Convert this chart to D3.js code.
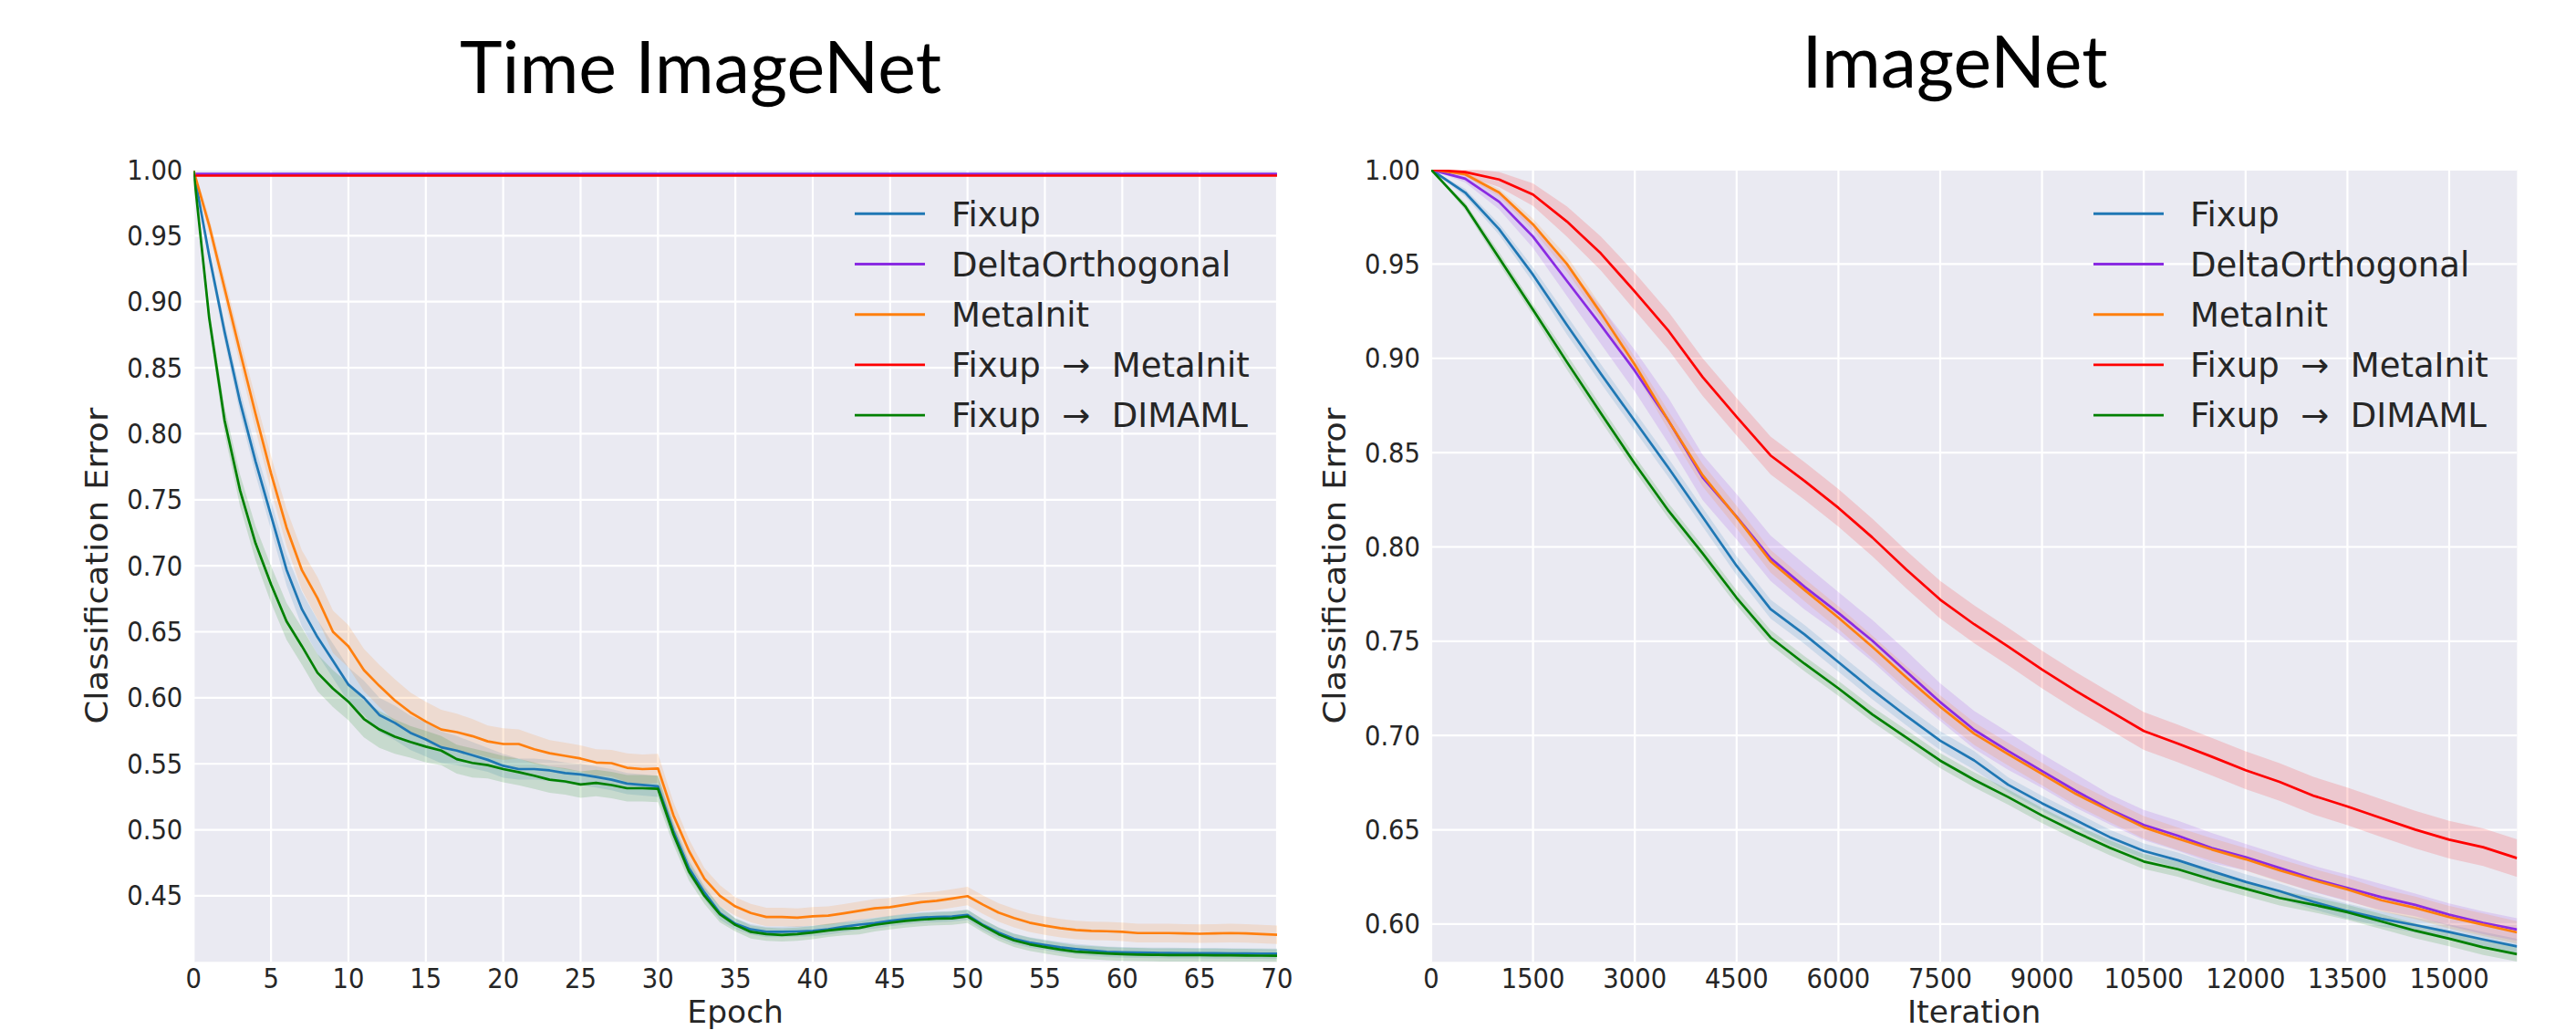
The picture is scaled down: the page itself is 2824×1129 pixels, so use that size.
<!DOCTYPE html>
<html><head><meta charset="utf-8">
<script src="https://cdn.jsdelivr.net/npm/d3@7"></script>
<style>html,body{margin:0;padding:0;background:#fff;} svg{display:block;}</style>
</head><body>
<svg id="chart" width="2824" height="1129"></svg>
<script>
// ---------------- DATA ----------------
const seriesNames = ["Fixup", "DeltaOrthogonal", "MetaInit", "Fixup\u00a0\u00a0\u2192\u00a0\u00a0MetaInit", "Fixup\u00a0\u00a0\u2192\u00a0\u00a0DIMAML"];
const seriesColors = ["#1f77b4", "#8a2be2", "#ff7f0e", "#ff0000", "#008000"];

const leftTitle = "Time ImageNet";
const rightTitle = "ImageNet";
const leftXLabel = "Epoch";
const rightXLabel = "Iteration";
const yLabel = "Classification Error";

const leftXTicks = [0, 5, 10, 15, 20, 25, 30, 35, 40, 45, 50, 55, 60, 65, 70];
const leftYTicks = [0.45, 0.50, 0.55, 0.60, 0.65, 0.70, 0.75, 0.80, 0.85, 0.90, 0.95, 1.00];
const rightXTicks = [0, 1500, 3000, 4500, 6000, 7500, 9000, 10500, 12000, 13500, 15000];
const rightYTicks = [0.60, 0.65, 0.70, 0.75, 0.80, 0.85, 0.90, 0.95, 1.00];

const epochs = [0,1,2,3,4,5,6,7,8,9,10,11,12,13,14,15,16,17,18,19,20,21,22,23,24,25,26,27,28,29,30,31,32,33,34,35,36,37,38,39,40,41,42,43,44,45,46,47,48,49,50,51,52,53,54,55,56,57,58,59,60,61,62,63,64,65,66,67,68,69,70];

const leftFixup = [0.999,0.935,0.877,0.824,0.779,0.738,0.697,0.667,0.646,0.628,
  0.610,0.600,0.587,0.581,0.5735,0.5685,0.5625,0.560,0.5565,0.553,
  0.5485,0.546,0.546,0.545,0.543,0.542,0.540,0.538,0.535,0.534,
  0.533,0.499,0.471,0.4526,0.437,0.4288,0.4246,0.4227,0.4227,0.423,
  0.4234,0.4246,0.4265,0.4282,0.4293,0.431,0.4324,0.4335,0.434,0.4344,
  0.4356,0.428,0.4222,0.4175,0.4147,0.4128,0.411,0.4097,0.4086,0.4076,
  0.4072,0.407,0.4068,0.4067,0.4066,0.4066,0.4065,0.4064,0.4063,0.4062,0.4061];
const leftDelta = [0.9968,0.9968,0.9968,0.9968,0.9968,0.9968,0.9968,0.9968,0.9968,0.9968,
  0.9968,0.9968,0.9968,0.9968,0.9968,0.9968,0.9968,0.9968,0.9968,0.9968,
  0.9968,0.9968,0.9968,0.9968,0.9968,0.9968,0.9968,0.9968,0.9968,0.9968,
  0.9968,0.9968,0.9968,0.9968,0.9968,0.9968,0.9968,0.9968,0.9968,0.9968,
  0.9968,0.9968,0.9968,0.9968,0.9968,0.9968,0.9968,0.9968,0.9968,0.9968,
  0.9968,0.9968,0.9968,0.9968,0.9968,0.9968,0.9968,0.9968,0.9968,0.9968,
  0.9968,0.9968,0.9968,0.9968,0.9968,0.9968,0.9968,0.9968,0.9968,0.9968,0.9968];
const leftMeta = [0.999,0.958,0.910,0.862,0.815,0.770,0.729,0.6965,0.6755,0.650,
  0.639,0.621,0.609,0.598,0.589,0.582,0.576,0.574,0.571,0.567,
  0.565,0.565,0.561,0.558,0.556,0.554,0.551,0.5505,0.547,0.546,
  0.5465,0.511,0.484,0.463,0.450,0.442,0.437,0.434,0.434,0.4335,
  0.4345,0.435,0.4367,0.4386,0.4405,0.4414,0.4433,0.4452,0.4463,0.448,
  0.4498,0.4433,0.4374,0.4332,0.4297,0.4274,0.4255,0.4241,0.4234,0.4232,
  0.4227,0.4218,0.4218,0.4218,0.4215,0.4213,0.4215,0.4218,0.4215,0.421,0.4205];
const leftFixMeta = [0.9955,0.9955,0.9955,0.9955,0.9955,0.9955,0.9955,0.9955,0.9955,0.9955,
  0.9955,0.9955,0.9955,0.9955,0.9955,0.9955,0.9955,0.9955,0.9955,0.9955,
  0.9955,0.9955,0.9955,0.9955,0.9955,0.9955,0.9955,0.9955,0.9955,0.9955,
  0.9955,0.9955,0.9955,0.9955,0.9955,0.9955,0.9955,0.9955,0.9955,0.9955,
  0.9955,0.9955,0.9955,0.9955,0.9955,0.9955,0.9955,0.9955,0.9955,0.9955,
  0.9955,0.9955,0.9955,0.9955,0.9955,0.9955,0.9955,0.9955,0.9955,0.9955,
  0.9955,0.9955,0.9955,0.9955,0.9955,0.9955,0.9955,0.9955,0.9955,0.9955,0.9955];
const leftDimaml = [0.999,0.888,0.810,0.757,0.717,0.686,0.658,0.639,0.619,0.607,
  0.597,0.584,0.576,0.5706,0.5666,0.563,0.560,0.5535,0.5507,0.549,
  0.546,0.5437,0.541,0.538,0.5367,0.5343,0.5355,0.5339,0.5315,0.5315,
  0.531,0.4966,0.4685,0.450,0.436,0.428,0.4227,0.421,0.4204,0.421,
  0.4222,0.4238,0.425,0.4257,0.428,0.4296,0.431,0.432,0.4327,0.433,
  0.4344,0.4274,0.421,0.4163,0.4133,0.4112,0.4093,0.4077,0.407,0.4063,
  0.4058,0.4055,0.4053,0.4052,0.4052,0.4051,0.405,0.4049,0.4048,0.4047,0.4046];

// band half-widths (std) read from the shaded regions
const leftFixupSd = [0.002,0.005,0.007,0.009,0.010,0.011,0.012,0.013,0.013,0.013,
  0.013,0.013,0.013,0.013,0.013,0.013,0.012,0.011,0.010,0.009,
  0.009,0.008,0.008,0.008,0.008,0.008,0.008,0.008,0.008,0.008,
  0.008,0.007,0.006,0.005,0.005,0.004,0.004,0.004,0.004,0.004,
  0.004,0.004,0.004,0.004,0.004,0.004,0.004,0.004,0.004,0.004,
  0.004,0.004,0.004,0.004,0.004,0.004,0.004,0.004,0.004,0.004,
  0.004,0.004,0.004,0.004,0.004,0.004,0.004,0.004,0.004,0.004,0.004];
const leftMetaSd = [0.003,0.006,0.008,0.010,0.012,0.013,0.014,0.015,0.016,0.016,
  0.016,0.016,0.016,0.016,0.015,0.015,0.015,0.014,0.013,0.012,
  0.012,0.011,0.011,0.010,0.010,0.010,0.010,0.010,0.011,0.011,
  0.011,0.010,0.009,0.008,0.008,0.007,0.007,0.007,0.007,0.007,
  0.007,0.007,0.007,0.007,0.007,0.007,0.007,0.007,0.007,0.007,
  0.007,0.007,0.007,0.007,0.007,0.007,0.007,0.007,0.007,0.007,
  0.007,0.007,0.007,0.007,0.007,0.007,0.007,0.007,0.007,0.007,0.007];
const leftDimamlSd = [0.002,0.008,0.010,0.012,0.013,0.014,0.014,0.014,0.014,0.014,
  0.014,0.014,0.014,0.013,0.012,0.012,0.011,0.011,0.011,0.010,
  0.010,0.010,0.010,0.010,0.010,0.010,0.010,0.010,0.010,0.010,
  0.010,0.008,0.007,0.006,0.006,0.005,0.005,0.005,0.005,0.005,
  0.005,0.005,0.005,0.005,0.005,0.005,0.005,0.005,0.005,0.005,
  0.005,0.005,0.005,0.005,0.005,0.005,0.005,0.005,0.005,0.005,
  0.005,0.005,0.005,0.005,0.005,0.005,0.005,0.005,0.005,0.005,0.005];

const iterations = [0,500,1000,1500,2000,2500,3000,3500,4000,4500,5000,5500,6000,6500,7000,7500,8000,
  8500,9000,9500,10000,10500,11000,11500,12000,12500,13000,13500,14000,14500,15000,15500,16000];

const rightFixup = [1.000,0.9879,0.9685,0.9443,0.9176,0.8918,0.8667,0.8417,0.8158,0.790,0.767,
  0.7536,0.7389,0.7242,0.7104,0.6973,0.6868,0.6739,0.6641,0.6551,0.6461,0.6388,
  0.6339,0.6281,0.6224,0.6175,0.6118,0.6069,0.6028,0.5995,0.5958,0.5919,0.5882];
const rightDelta = [1.000,0.9952,0.983,0.9645,0.941,0.9176,0.8934,0.8667,0.8368,0.816,0.794,
  0.7789,0.765,0.7503,0.734,0.7177,0.703,0.6918,0.6812,0.6706,0.6608,0.6526,
  0.6469,0.6404,0.6355,0.6298,0.624,0.6192,0.6143,0.6102,0.605,0.6007,0.5971];
const rightMeta = [1.000,0.9976,0.9879,0.971,0.950,0.924,0.8966,0.8667,0.838,0.8158,0.7924,
  0.7772,0.7625,0.747,0.7308,0.7153,0.701,0.6901,0.6796,0.669,0.660,0.6513,
  0.6453,0.6396,0.6344,0.6285,0.6233,0.6184,0.6127,0.6086,0.6037,0.5997,0.5956];
const rightFixMeta = [1.000,0.9987,0.9948,0.9868,0.9725,0.9556,0.9354,0.9144,0.890,0.869,0.8485,
  0.835,0.8207,0.805,0.788,0.772,0.759,0.7472,0.735,0.7236,0.713,0.7024,
  0.6958,0.6888,0.6816,0.6754,0.6681,0.6624,0.6562,0.6501,0.6448,0.6408,0.635];
const rightDimaml = [1.000,0.9806,0.9532,0.9257,0.898,0.8708,0.8441,0.819,0.7965,0.773,0.752,
  0.7381,0.725,0.7112,0.699,0.6867,0.6765,0.6674,0.6576,0.6487,0.6405,0.6332,
  0.6291,0.6237,0.6188,0.6139,0.6103,0.6063,0.6014,0.5965,0.5923,0.5877,0.5841];

const rightFixupSd = [0,0.002,0.003,0.004,0.005,0.005,0.005,0.005,0.005,0.005,0.005,
  0.005,0.005,0.005,0.005,0.005,0.005,0.004,0.004,0.004,0.004,0.004,
  0.004,0.004,0.004,0.004,0.004,0.004,0.004,0.004,0.004,0.004,0.004];
const rightDeltaSd = [0,0.002,0.004,0.006,0.008,0.010,0.011,0.012,0.012,0.012,0.012,
  0.012,0.011,0.011,0.011,0.010,0.010,0.010,0.009,0.009,0.008,0.008,
  0.008,0.008,0.007,0.007,0.007,0.007,0.007,0.006,0.006,0.006,0.006];
const rightMetaSd = [0,0.001,0.002,0.003,0.004,0.004,0.004,0.005,0.006,0.006,0.006,
  0.006,0.006,0.006,0.006,0.006,0.006,0.006,0.006,0.006,0.006,0.006,
  0.006,0.006,0.006,0.006,0.006,0.006,0.006,0.006,0.006,0.006,0.006];
const rightFixMetaSd = [0,0.002,0.004,0.006,0.008,0.009,0.010,0.010,0.010,0.010,0.010,
  0.010,0.010,0.010,0.010,0.010,0.010,0.010,0.010,0.010,0.010,0.010,
  0.010,0.010,0.010,0.010,0.010,0.010,0.010,0.010,0.010,0.010,0.010];
const rightDimamlSd = [0,0.002,0.003,0.003,0.004,0.004,0.004,0.004,0.004,0.004,0.004,
  0.004,0.004,0.004,0.004,0.004,0.004,0.004,0.004,0.004,0.004,0.004,
  0.004,0.004,0.004,0.004,0.004,0.004,0.004,0.004,0.004,0.004,0.004];

// ---------------- DRAW ----------------
const svg = d3.select("#chart");
const SX = 0.93;            // horizontal compression of the original figure's tick text
const TXT = "#262626";
const FONT = "'DejaVu Sans', sans-serif";

function squishText(g, x, y, str, size, anchor, rot, sx) {
  const s = (sx === undefined) ? SX : sx;
  return g.append("text")
    .attr("transform", rot ? `translate(${x},${y}) rotate(-90) scale(1,${s})` : `translate(${x},${y}) scale(${s},1)`)
    .attr("text-anchor", anchor)
    .attr("font-family", FONT)
    .attr("font-size", size)
    .attr("fill", TXT)
    .text(str);
}

function panel(cfg) {
  const x = d3.scaleLinear().domain(cfg.xDomain).range([cfg.left, cfg.right]);
  const y = d3.scaleLinear().domain(cfg.yDomain).range([cfg.bottom, cfg.top]);
  const g = svg.append("g");
  const clipId = "clip" + cfg.id;
  svg.append("clipPath").attr("id", clipId).append("rect")
    .attr("x", cfg.left).attr("y", cfg.top).attr("width", cfg.right - cfg.left).attr("height", cfg.bottom - cfg.top);

  g.append("rect").attr("x", cfg.left).attr("y", cfg.top)
    .attr("width", cfg.right - cfg.left).attr("height", cfg.bottom - cfg.top).attr("fill", "#EAEAF2");

  // grid
  g.selectAll(".gx").data(cfg.xTicks).enter().append("line")
    .attr("x1", d => x(d)).attr("x2", d => x(d)).attr("y1", cfg.top).attr("y2", cfg.bottom)
    .attr("stroke", "#fff").attr("stroke-width", 2.2);
  g.selectAll(".gy").data(cfg.yTicks).enter().append("line")
    .attr("y1", d => y(d)).attr("y2", d => y(d)).attr("x1", cfg.left).attr("x2", cfg.right)
    .attr("stroke", "#fff").attr("stroke-width", 2.2);

  // tick labels
  cfg.xTicks.forEach(t => squishText(g, x(t), cfg.bottom + 28.5, cfg.xFmt(t), 29.5, "middle"));
  cfg.yTicks.forEach(t => squishText(g, cfg.left - 12, y(t) + 10.5, d3.format(".2f")(t), 29.5, "end"));

  // axis labels
  squishText(g, (cfg.left + cfg.right) / 2, 1121, cfg.xLabel, 34.5, "middle", false, 1);
  squishText(g, cfg.left - 94, (cfg.top + cfg.bottom) / 2, yLabel, 37, "middle", true);

  // title
  g.append("text").attr("x", cfg.titleX).attr("y", cfg.titleY).attr("text-anchor", "middle")
    .attr("font-family", "Lato, 'Open Sans', sans-serif").attr("font-size", 80).attr("fill", "#000")
    .attr("textLength", cfg.titleLen).attr("lengthAdjust", "spacingAndGlyphs")
    .text(cfg.title);

  const plot = g.append("g").attr("clip-path", `url(#${clipId})`);
  // bands
  cfg.series.forEach((s, i) => {
    if (!s.sd) return;
    const area = d3.area()
      .x((d, k) => x(cfg.xs[k]))
      .y0((d, k) => y(d - s.sd[k]))
      .y1((d, k) => y(d + s.sd[k]));
    plot.append("path").attr("d", area(s.v)).attr("fill", seriesColors[i]).attr("fill-opacity", 0.15).attr("stroke", "none");
  });
  // lines
  cfg.series.forEach((s, i) => {
    const line = d3.line().x((d, k) => x(cfg.xs[k])).y(d => y(d));
    plot.append("path").attr("d", line(s.v)).attr("fill", "none")
      .attr("stroke", seriesColors[i]).attr("stroke-width", 2.7).attr("stroke-linejoin", "round");
  });

  // legend
  seriesNames.forEach((name, i) => {
    const cy = 234.3 + i * 55.2;
    g.append("line").attr("x1", cfg.legX).attr("x2", cfg.legX + 77).attr("y1", cy).attr("y2", cy)
      .attr("stroke", seriesColors[i]).attr("stroke-width", 2.9);
    squishText(g, cfg.legX + 106, cy + 13.3, name, 37, "start", false, 1);
  });
}

panel({
  id: "L", left: 212.3, right: 1400, top: 186, bottom: 1054.3,
  xDomain: [0, 70], yDomain: [0.40, 1.00],
  xTicks: leftXTicks, yTicks: leftYTicks, xFmt: d3.format("d"),
  xLabel: leftXLabel, title: leftTitle, titleX: 768, titleY: 102, titleLen: 528,
  xs: epochs, legX: 937,
  series: [
    {v: leftFixup, sd: leftFixupSd},
    {v: leftDelta},
    {v: leftMeta, sd: leftMetaSd},
    {v: leftFixMeta},
    {v: leftDimaml, sd: leftDimamlSd}
  ]
});

panel({
  id: "R", left: 1569, right: 2759.4, top: 186, bottom: 1054.3,
  xDomain: [0, 16000], yDomain: [0.58, 1.00],
  xTicks: rightXTicks, yTicks: rightYTicks, xFmt: d3.format("d"),
  xLabel: rightXLabel, title: rightTitle, titleX: 2143, titleY: 96, titleLen: 335,
  xs: iterations, legX: 2295,
  series: [
    {v: rightFixup, sd: rightFixupSd},
    {v: rightDelta, sd: rightDeltaSd},
    {v: rightMeta, sd: rightMetaSd},
    {v: rightFixMeta, sd: rightFixMetaSd},
    {v: rightDimaml, sd: rightDimamlSd}
  ]
});
</script>
</body></html>
